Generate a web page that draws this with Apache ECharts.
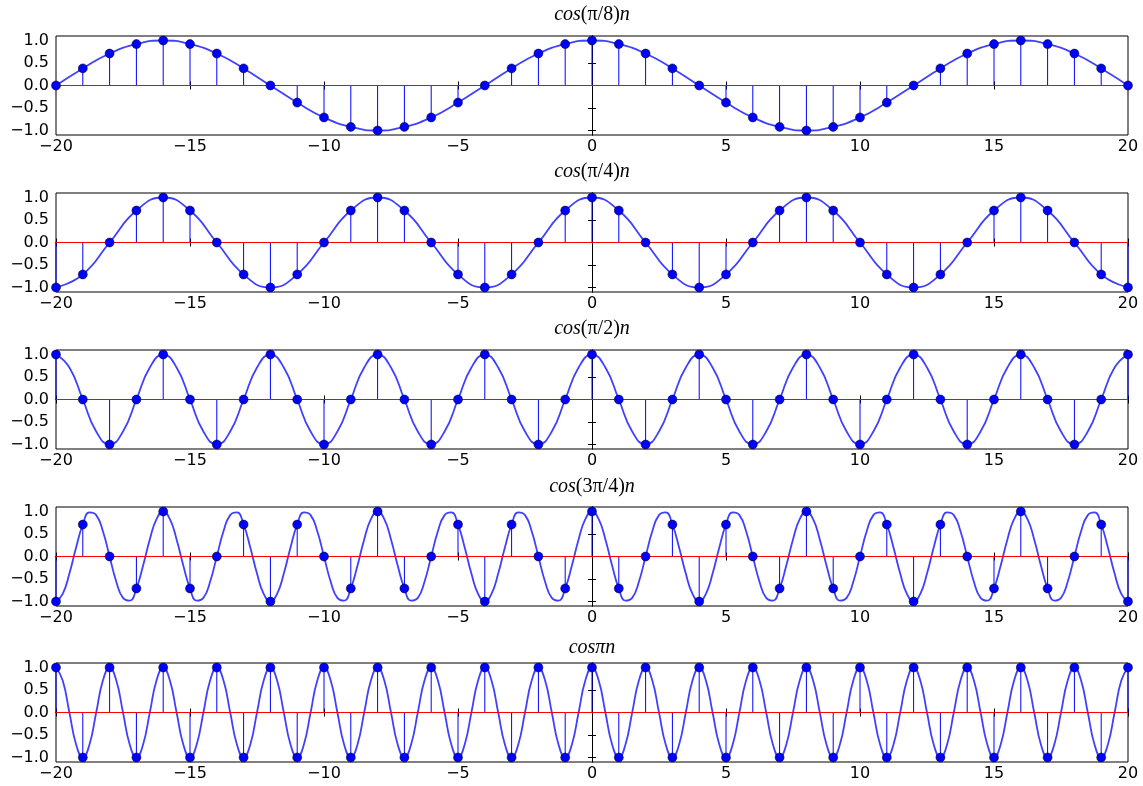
<!DOCTYPE html>
<html>
<head>
<meta charset="utf-8">
<script src="https://cdn.jsdelivr.net/npm/echarts@6/dist/echarts.min.js"></script>
<style>
  html, body { margin: 0; padding: 0; background: #fff; }
  #main { width: 1143px; height: 786px; }
</style>
</head>
<body>
<div id="main"></div>
<script>
(function () {

  // sample index n for the stems
  let nValues = [-20, -19, -18, -17, -16, -15, -14, -13, -12, -11, -10, -9, -8, -7, -6, -5, -4, -3, -2, -1,
    0, 1, 2, 3, 4, 5, 6, 7, 8, 9, 10, 11, 12, 13, 14, 15, 16, 17, 18, 19, 20];

  // stem heights
  let stemPi8 = [0, 0.38, 0.71, 0.92, 1, 0.92, 0.71, 0.38, 0, -0.38, -0.71, -0.92, -1, -0.92, -0.71, -0.38,
    0, 0.38, 0.71, 0.92, 1, 0.92, 0.71, 0.38, 0, -0.38, -0.71, -0.92, -1, -0.92, -0.71, -0.38,
    0, 0.38, 0.71, 0.92, 1, 0.92, 0.71, 0.38, 0];
  let stemPi4 = [-1, -0.71, 0, 0.71, 1, 0.71, 0, -0.71, -1, -0.71, 0, 0.71, 1, 0.71, 0, -0.71,
    -1, -0.71, 0, 0.71, 1, 0.71, 0, -0.71, -1, -0.71, 0, 0.71, 1, 0.71, 0, -0.71,
    -1, -0.71, 0, 0.71, 1, 0.71, 0, -0.71, -1];
  let stemPi2 = [1, 0, -1, 0, 1, 0, -1, 0, 1, 0, -1, 0, 1, 0, -1, 0, 1, 0, -1, 0,
    1, 0, -1, 0, 1, 0, -1, 0, 1, 0, -1, 0, 1, 0, -1, 0, 1, 0, -1, 0, 1];
  let stem3Pi4 = [-1, 0.71, 0, -0.71, 1, -0.71, 0, 0.71, -1, 0.71, 0, -0.71, 1, -0.71, 0, 0.71,
    -1, 0.71, 0, -0.71, 1, -0.71, 0, 0.71, -1, 0.71, 0, -0.71, 1, -0.71, 0, 0.71,
    -1, 0.71, 0, -0.71, 1, -0.71, 0, 0.71, -1];
  let stemPi = [1, -1, 1, -1, 1, -1, 1, -1, 1, -1, 1, -1, 1, -1, 1, -1, 1, -1, 1, -1,
    1, -1, 1, -1, 1, -1, 1, -1, 1, -1, 1, -1, 1, -1, 1, -1, 1, -1, 1, -1, 1];

  // continuous curves (finer steps where the samples miss the shape)
  let curvePi2 = [
    1, 0.71, 0, -0.71, -1, -0.71, 0, 0.71, 1, 0.71, 0, -0.71, -1, -0.71, 0, 0.71,
    1, 0.71, 0, -0.71, -1, -0.71, 0, 0.71, 1, 0.71, 0, -0.71, -1, -0.71, 0, 0.71,
    1, 0.71, 0, -0.71, -1, -0.71, 0, 0.71, 1, 0.71, 0, -0.71, -1, -0.71, 0, 0.71,
    1, 0.71, 0, -0.71, -1, -0.71, 0, 0.71, 1, 0.71, 0, -0.71, -1, -0.71, 0, 0.71,
    1, 0.71, 0, -0.71, -1, -0.71, 0, 0.71, 1, 0.71, 0, -0.71, -1, -0.71, 0, 0.71,
    1];
  let curve3Pi4 = [
    -1, -0.83, -0.38, 0.2, 0.71, 0.98, 0.92, 0.56, 0, -0.56, -0.92, -0.98, -0.71, -0.2, 0.38, 0.83,
    1, 0.83, 0.38, -0.2, -0.71, -0.98, -0.92, -0.56, 0, 0.56, 0.92, 0.98, 0.71, 0.2, -0.38, -0.83,
    -1, -0.83, -0.38, 0.2, 0.71, 0.98, 0.92, 0.56, 0, -0.56, -0.92, -0.98, -0.71, -0.2, 0.38, 0.83,
    1, 0.83, 0.38, -0.2, -0.71, -0.98, -0.92, -0.56, 0, 0.56, 0.92, 0.98, 0.71, 0.2, -0.38, -0.83,
    -1, -0.83, -0.38, 0.2, 0.71, 0.98, 0.92, 0.56, 0, -0.56, -0.92, -0.98, -0.71, -0.2, 0.38, 0.83,
    1, 0.83, 0.38, -0.2, -0.71, -0.98, -0.92, -0.56, 0, 0.56, 0.92, 0.98, 0.71, 0.2, -0.38, -0.83,
    -1, -0.83, -0.38, 0.2, 0.71, 0.98, 0.92, 0.56, 0, -0.56, -0.92, -0.98, -0.71, -0.2, 0.38, 0.83,
    1, 0.83, 0.38, -0.2, -0.71, -0.98, -0.92, -0.56, 0, 0.56, 0.92, 0.98, 0.71, 0.2, -0.38, -0.83,
    -1, -0.83, -0.38, 0.2, 0.71, 0.98, 0.92, 0.56, 0, -0.56, -0.92, -0.98, -0.71, -0.2, 0.38, 0.83,
    1, 0.83, 0.38, -0.2, -0.71, -0.98, -0.92, -0.56, 0, 0.56, 0.92, 0.98, 0.71, 0.2, -0.38, -0.83,
    -1];
  let curvePi = [
    1, 0.71, 0, -0.71, -1, -0.71, 0, 0.71, 1, 0.71, 0, -0.71, -1, -0.71, 0, 0.71,
    1, 0.71, 0, -0.71, -1, -0.71, 0, 0.71, 1, 0.71, 0, -0.71, -1, -0.71, 0, 0.71,
    1, 0.71, 0, -0.71, -1, -0.71, 0, 0.71, 1, 0.71, 0, -0.71, -1, -0.71, 0, 0.71,
    1, 0.71, 0, -0.71, -1, -0.71, 0, 0.71, 1, 0.71, 0, -0.71, -1, -0.71, 0, 0.71,
    1, 0.71, 0, -0.71, -1, -0.71, 0, 0.71, 1, 0.71, 0, -0.71, -1, -0.71, 0, 0.71,
    1, 0.71, 0, -0.71, -1, -0.71, 0, 0.71, 1, 0.71, 0, -0.71, -1, -0.71, 0, 0.71,
    1, 0.71, 0, -0.71, -1, -0.71, 0, 0.71, 1, 0.71, 0, -0.71, -1, -0.71, 0, 0.71,
    1, 0.71, 0, -0.71, -1, -0.71, 0, 0.71, 1, 0.71, 0, -0.71, -1, -0.71, 0, 0.71,
    1, 0.71, 0, -0.71, -1, -0.71, 0, 0.71, 1, 0.71, 0, -0.71, -1, -0.71, 0, 0.71,
    1, 0.71, 0, -0.71, -1, -0.71, 0, 0.71, 1, 0.71, 0, -0.71, -1, -0.71, 0, 0.71,
    1];

  let titles = [
    '{i|cos}{r|(π/8)}{i|n}',
    '{i|cos}{r|(π/4)}{i|n}',
    '{i|cos}{r|(π/2)}{i|n}',
    '{i|cos}{r|(3π/4)}{i|n}',
    '{i|cosπn}'
  ];
  let yTicks = [-1, -0.5, 0, 0.5, 1];

  let panels = [
    { stem: stemPi8, curve: stemPi8, step: 1, top: 36, titleY: 15 },
    { stem: stemPi4, curve: stemPi4, step: 1, top: 193, titleY: 172 },
    { stem: stemPi2, curve: curvePi2, step: 0.5, top: 350, titleY: 329 },
    { stem: stem3Pi4, curve: curve3Pi4, step: 0.25, top: 507, titleY: 487 },
    { stem: stemPi, curve: curvePi, step: 0.25, top: 663, titleY: 648 }
  ];

  let minus = function (s) { return String(s).replace('-', '\u2212'); };
  let labelFont = { fontFamily: 'DejaVu Sans', fontSize: 16, color: '#000' };
  let tick = { show: true, inside: true, length: 4, lineStyle: { color: '#000', width: 1 } };

  let grid = [], xAxis = [], yAxis = [], series = [], graphic = [];

  panels.forEach(function (p, i) {
    grid.push({ left: 56, right: 15, top: p.top, height: 99, show: true, borderColor: '#000', borderWidth: 1 });

    // bottom + top x axes
    xAxis.push({
      type: 'value', gridIndex: i, min: -20, max: 20, interval: 5, position: 'bottom',
      axisLine: { show: true, lineStyle: { color: '#000', width: 1 } },
      axisTick: tick, splitLine: { show: false },
      axisLabel: Object.assign({ margin: 4, formatter: minus }, labelFont)
    });
    xAxis.push({
      type: 'value', gridIndex: i, min: -20, max: 20, interval: 5, position: 'top',
      axisLine: { show: true, lineStyle: { color: '#000', width: 1 } },
      axisTick: tick, splitLine: { show: false }, axisLabel: { show: false }
    });

    // left + right y axes
    yAxis.push({
      type: 'value', gridIndex: i, min: -1.1, max: 1.1, position: 'left',
      axisLine: { show: true, lineStyle: { color: '#000', width: 1 } },
      axisTick: Object.assign({ customValues: yTicks }, tick), splitLine: { show: false },
      axisLabel: Object.assign({
        margin: 7, customValues: yTicks,
        formatter: function (v) { return minus(v.toFixed(1)); }
      }, labelFont)
    });
    yAxis.push({
      type: 'value', gridIndex: i, min: -1.1, max: 1.1, position: 'right',
      axisLine: { show: true, lineStyle: { color: '#000', width: 1 } },
      axisTick: Object.assign({ customValues: yTicks }, tick), splitLine: { show: false },
      axisLabel: { show: false }
    });

    let pts = p.stem.map(function (v, k) { return [nValues[k], v]; });
    let curvePts = p.curve.map(function (v, k) { return [nValues[0] + k * p.step, v]; });

    series.push({
      type: 'line', xAxisIndex: 2 * i, yAxisIndex: 2 * i,
      data: curvePts, smooth: true, symbol: 'none', silent: true, z: 2,
      lineStyle: { color: 'rgba(0,0,255,0.75)', width: 1.8 }
    });
    series.push({
      type: 'custom', xAxisIndex: 2 * i, yAxisIndex: 2 * i, data: pts, z: 3, silent: true,
      renderItem: function (params, api) {
        let p0 = api.coord([api.value(0), 0]);
        let p1 = api.coord([api.value(0), api.value(1)]);
        return {
          type: 'line',
          shape: { x1: p0[0], y1: p0[1], x2: p1[0], y2: p1[1] },
          style: { stroke: '#0000ff', lineWidth: 1 }
        };
      },
      markLine: {
        silent: true, symbol: ['none', 'none'], label: { show: false },
        lineStyle: { color: '#ff0000', width: 1, type: 'solid' },
        data: [{ yAxis: 0 }]
      }
    });
    series.push({
      type: 'scatter', xAxisIndex: 2 * i, yAxisIndex: 2 * i, data: pts, z: 5,
      symbolSize: 9, clip: true, silent: true,
      itemStyle: { color: '#0000ff', borderColor: '#000', borderWidth: 0.5, opacity: 1 }
    });

    graphic.push({
      type: 'text', x: 592, y: p.titleY, silent: true,
      style: {
        text: titles[i], align: 'center', verticalAlign: 'middle',
        rich: {
          i: { fontFamily: 'Liberation Serif', fontStyle: 'italic', fontSize: 20, fill: '#000' },
          r: { fontFamily: 'Liberation Serif', fontSize: 20, fill: '#000' }
        }
      }
    });
  });

  let chart = echarts.init(document.getElementById('main'));
  chart.setOption({
    animation: false,
    backgroundColor: '#fff',
    grid: grid, xAxis: xAxis, yAxis: yAxis, series: series, graphic: graphic
  });
  window.addEventListener('resize', function () { chart.resize(); });

})();
</script>
</body>
</html>
